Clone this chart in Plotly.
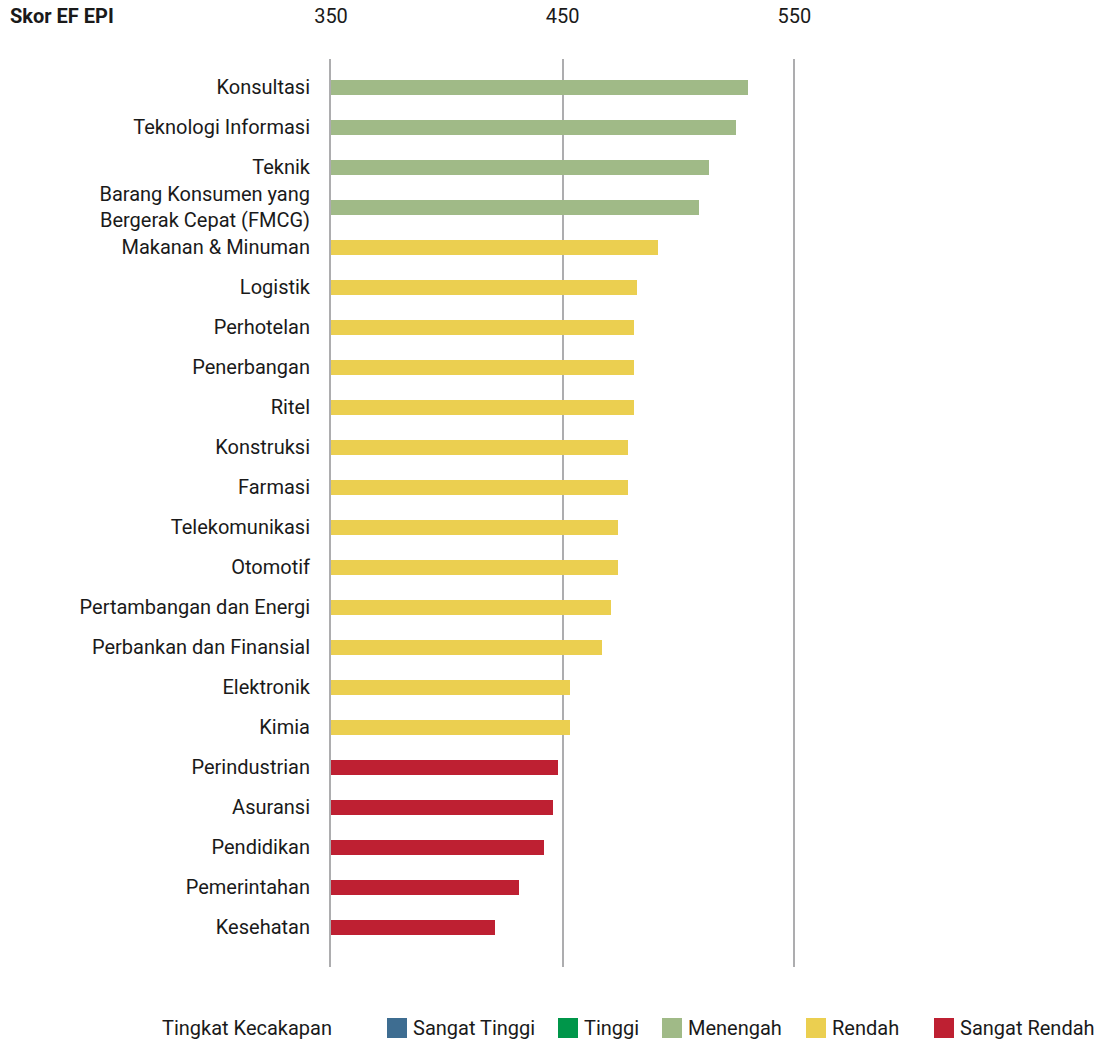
import plotly.graph_objects as go

# EF EPI scores by industry, top to bottom
industries = [
    "Konsultasi", "Teknologi Informasi", "Teknik",
    "Barang Konsumen yang<br>Bergerak Cepat (FMCG)", "Makanan & Minuman",
    "Logistik", "Perhotelan", "Penerbangan", "Ritel", "Konstruksi", "Farmasi",
    "Telekomunikasi", "Otomotif", "Pertambangan dan Energi",
    "Perbankan dan Finansial", "Elektronik", "Kimia", "Perindustrian",
    "Asuransi", "Pendidikan", "Pemerintahan", "Kesehatan",
]
scores = [530, 525, 513, 509, 491, 482, 481, 481, 481, 478, 478,
          474, 474, 471, 467, 453, 453, 448, 446, 442, 431, 421]
levels = ["Menengah"] * 4 + ["Rendah"] * 13 + ["Sangat Rendah"] * 5

# Proficiency bands and their colours
band_names = ["Sangat Tinggi", "Tinggi", "Menengah", "Rendah", "Sangat Rendah"]
band_colors = ["#3E6D91", "#00964A", "#A0BA87", "#EBCF50", "#BE2032"]
band_color = dict(zip(band_names, band_colors))

x_ticks = [350, 450, 550]

FONT = "Roboto"
FS = 20
TXT = "#1a1a1a"
W, H = 1109, 1041
ML, MR, MT, MB = 331, 83, 59, 74
X0, X1 = 350, 650

fig = go.Figure()
fig.add_trace(go.Bar(
    y=industries,
    x=[s - X0 for s in scores],
    base=X0,
    orientation="h",
    width=0.375,
    marker=dict(color=[band_color[l] for l in levels], line=dict(width=0)),
    showlegend=False,
    hoverinfo="skip",
))

fig.update_layout(
    width=W, height=H,
    margin=dict(l=ML, r=MR, t=MT, b=MB, autoexpand=False),
    paper_bgcolor="white", plot_bgcolor="white",
    font=dict(family=FONT, size=FS, color=TXT),
    showlegend=False,
    bargap=0,
)
fig.update_xaxes(
    range=[X0, X1], side="top", tickvals=x_ticks,
    ticktext=[str(v) for v in x_ticks],
    showgrid=True, gridcolor="#ADADAF", gridwidth=2,
    zeroline=False, showline=False, ticks="",
    ticklabelstandoff=31, automargin=False,
    tickfont=dict(family=FONT, size=FS, color=TXT),
)
fig.update_yaxes(
    categoryorder="array", categoryarray=industries,
    range=[22.0, -0.7],
    showgrid=False, zeroline=False,
    showline=True, linecolor="#ADADAF", linewidth=2,
    ticks="", ticklabelstandoff=15, automargin=False,
    tickfont=dict(family=FONT, size=FS, color=TXT),
)

pw = W - ML - MR
ph = H - MT - MB
def px_x(p):
    return (p - ML) / pw
def px_y(p):
    return (H - MB - p) / ph

# Axis title in the top-left corner
fig.add_annotation(
    text="<b>Skor EF EPI</b>", xref="paper", yref="paper",
    x=px_x(8), y=px_y(16),
    xanchor="left", yanchor="middle", showarrow=False,
    font=dict(family=FONT, size=FS, color=TXT),
)

# Legend row along the bottom
leg_y = 1028
fig.add_annotation(
    text="Tingkat Kecakapan", xref="paper", yref="paper",
    x=px_x(160), y=px_y(leg_y), xanchor="left", yanchor="middle",
    showarrow=False, font=dict(family=FONT, size=FS, color=TXT),
)
swatch_left = [387, 558, 662, 806, 934]
for name, color, left in zip(band_names, band_colors, swatch_left):
    fig.add_shape(
        type="rect", xref="paper", yref="paper",
        x0=px_x(left), x1=px_x(left + 20),
        y0=px_y(leg_y + 10), y1=px_y(leg_y - 10),
        fillcolor=color, line=dict(width=0),
    )
    fig.add_annotation(
        text=name, xref="paper", yref="paper",
        x=px_x(left + 24), y=px_y(leg_y), xanchor="left", yanchor="middle",
        showarrow=False, font=dict(family=FONT, size=FS, color=TXT),
    )

fig.write_html("out.html")
